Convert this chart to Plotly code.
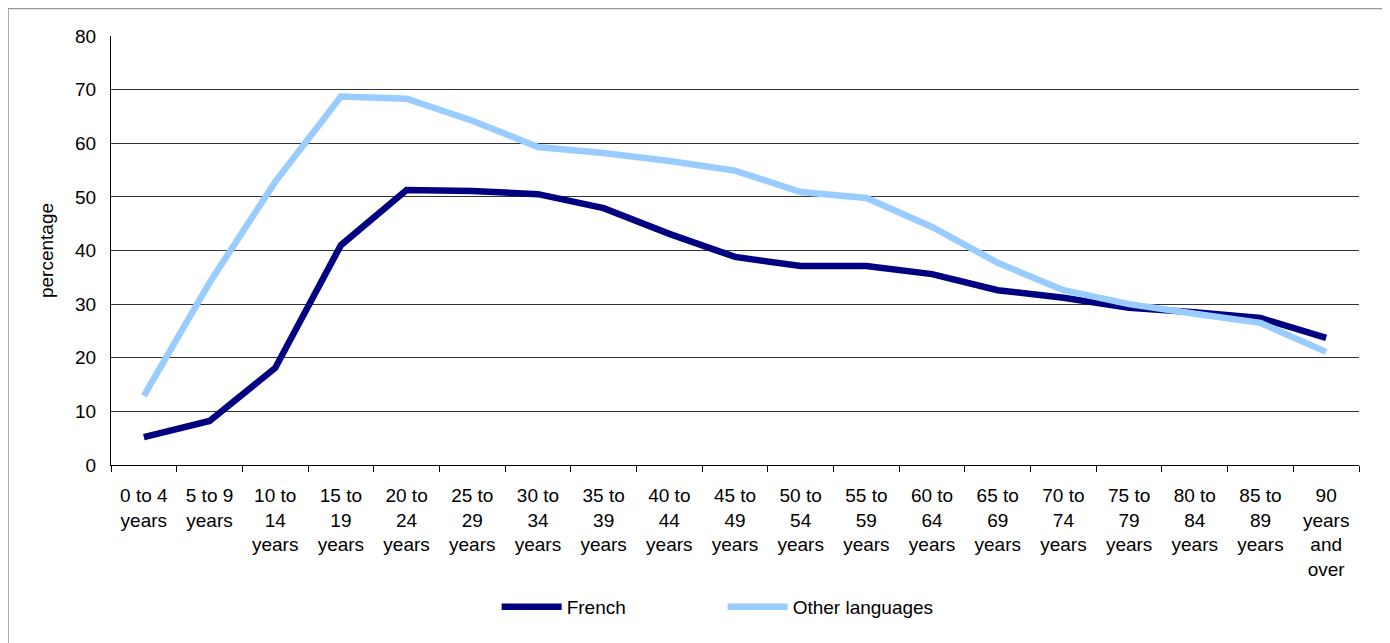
import plotly.graph_objects as go

age_groups = ["0 to 4<br>years", "5 to 9<br>years", "10 to<br>14<br>years", "15 to<br>19<br>years",
              "20 to<br>24<br>years", "25 to<br>29<br>years", "30 to<br>34<br>years", "35 to<br>39<br>years",
              "40 to<br>44<br>years", "45 to<br>49<br>years", "50 to<br>54<br>years", "55 to<br>59<br>years",
              "60 to<br>64<br>years", "65 to<br>69<br>years", "70 to<br>74<br>years", "75 to<br>79<br>years",
              "80 to<br>84<br>years", "85 to<br>89<br>years", "90<br>years<br>and<br>over"]

french = [5.2, 8.2, 18.1, 41.0, 51.3, 51.1, 50.5, 47.9, 43.1, 38.8, 37.1, 37.1,
          35.6, 32.6, 31.2, 29.3, 28.5, 27.4, 23.7]
other_languages = [12.9, 34.0, 52.8, 68.7, 68.3, 64.2, 59.3, 58.2, 56.7, 54.9, 50.9, 49.8,
                   44.4, 37.7, 32.6, 30.0, 28.2, 26.5, 21.1]

fig = go.Figure()
fig.add_trace(go.Scatter(x=age_groups, y=french, mode="lines", name="French",
                         line=dict(color="#000080", width=6.5)))
fig.add_trace(go.Scatter(x=age_groups, y=other_languages, mode="lines", name="Other languages",
                         line=dict(color="#99CCFF", width=6.5)))

# page body adds 8px margin, so the figure is 8px smaller than the window
fig.update_layout(
    width=1382, height=635,
    margin=dict(l=103, r=31, t=28, b=178, autoexpand=False),
    paper_bgcolor="white", plot_bgcolor="white",
    font=dict(family="Liberation Sans, Arial, sans-serif", size=19, color="black"),
    showlegend=True,
    legend=dict(orientation="h", x=0.309, xanchor="left", y=-0.331, yanchor="middle",
                font=dict(size=19), itemwidth=60, entrywidth=151, traceorder="normal"),
    shapes=[dict(type="rect", xref="paper", yref="paper", x0=-0.0825, x1=1.0224, y0=-0.45, y1=1.064,
                 line=dict(color="#999999", width=1.5), layer="below")],
)
fig.update_xaxes(range=[-0.5, 18.5], showline=True, linecolor="black", linewidth=1, showgrid=False,
                 ticks="outside", tickson="boundaries", ticklen=6, tickcolor="black",
                 tickangle=0, tickfont=dict(size=19), ticklabelstandoff=13, automargin=False)
fig.update_yaxes(range=[0, 80], dtick=10, showline=True, linecolor="black", linewidth=1,
                 showgrid=True, gridcolor="#333333", gridwidth=1, zeroline=False,
                 ticks="", title=dict(text="percentage", font=dict(size=19), standoff=16),
                 tickfont=dict(size=19), ticklabelstandoff=10, automargin=False)

fig.write_html("out.html")
